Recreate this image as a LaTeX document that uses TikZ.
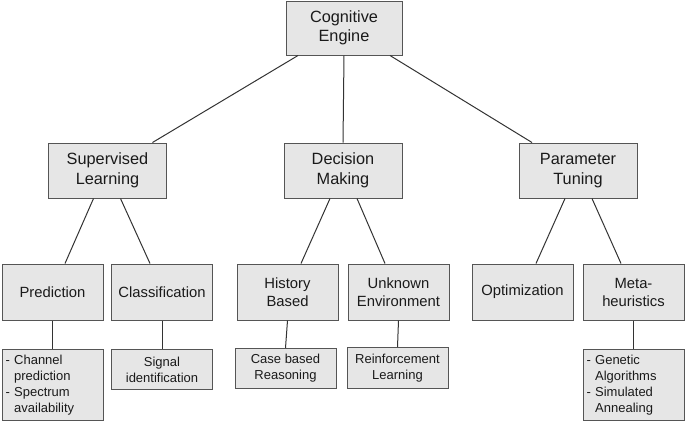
\documentclass[tikz,border=0pt]{standalone}
\usepackage{fontspec}
\setmainfont{Liberation Sans}
\definecolor{boxfill}{HTML}{E6E6E6}
\definecolor{boxline}{HTML}{555555}
\definecolor{linkcol}{HTML}{333333}
\definecolor{txt}{HTML}{1A1A1A}
\begin{document}
\begin{tikzpicture}[x=1pt,y=-1pt,
  box/.style={draw=boxline, fill=boxfill, line width=1pt, inner sep=0pt, align=center, text=txt},
  lvA/.style={box, minimum width=116pt, minimum height=54pt, font=\fontsize{16.3}{19.5}\selectfont},
  lvB/.style={box, minimum width=118pt, minimum height=55pt, font=\fontsize{16.3}{20}\selectfont},
  lvC/.style={box, minimum width=101pt, minimum height=56pt, font=\fontsize{14.8}{18}\selectfont},
  lvD/.style={box, minimum width=101pt, anchor=north, font=\fontsize{13}{16}\selectfont},
  lvDl/.style={lvD, text width=94pt, align=left},
  link/.style={draw=linkcol, line width=1pt}]
\useasboundingbox (0,0) rectangle (685,421);
% level 1
\node[lvA] (ce) at (344,28) {Cognitive\\Engine};
% level 2
\node[lvB] (sl) at (107.5,170.5) {Supervised\\Learning};
\node[lvB] (dm) at (343,170.5) {Decision\\Making};
\node[lvB] (pt) at (578,170.5) {Parameter\\Tuning};
% level 3
\node[lvC] (pr) at (52.5,292) {Prediction};
\node[lvC] (cl) at (162,292) {Classification};
\node[lvC] (hb) at (287.5,292) {History\\Based};
\node[lvC] (ue) at (398.5,292) {Unknown\\Environment};
\node[lvC] (op) at (522.5,292) {Optimization};
\node[lvC] (mh) at (633.5,292) {Meta-\\heuristics};
% level 4
\node[lvDl, minimum height=71pt] (cp) at (52.5,349) {- Channel\\\hphantom{- }prediction\\- Spectrum\\\hphantom{- }availability};
\node[lvD, minimum height=40pt] (si) at (162,349) {Signal\\identification};
\node[lvD, minimum height=40pt] (cb) at (285.5,348) {Case based\\Reasoning};
\node[lvD, minimum height=41pt] (rl) at (397.5,347) {Reinforcement\\Learning};
\node[lvDl, minimum height=71pt] (ga) at (633.5,349) {- Genetic\\\hphantom{- }Algorithms\\- Simulated\\\hphantom{- }Annealing};
% connectors level 1 -> 2
\draw[link] ([xshift=-46pt]ce.south) -- ([xshift=45pt]sl.north);
\draw[link] (ce.south) -- (dm.north);
\draw[link] ([xshift=46pt]ce.south) -- ([xshift=-46pt]pt.north);
% level 2 -> 3
\draw[link] ([xshift=-14pt]sl.south) -- ([xshift=12.5pt]pr.north);
\draw[link] ([xshift=13pt]sl.south) -- ([xshift=-12pt]cl.north);
\draw[link] ([xshift=-13pt]dm.south) -- ([xshift=13.5pt]hb.north);
\draw[link] ([xshift=14pt]dm.south) -- ([xshift=-13.5pt]ue.north);
\draw[link] ([xshift=-13pt]pt.south) -- ([xshift=13.5pt]op.north);
\draw[link] ([xshift=14pt]pt.south) -- ([xshift=-12.5pt]mh.north);
% level 3 -> 4
\draw[link] (pr.south) -- (cp.north);
\draw[link] (cl.south) -- (si.north);
\draw[link] (hb.south) -- (cb.north);
\draw[link] (ue.south) -- (rl.north);
\draw[link] (mh.south) -- (ga.north);
\end{tikzpicture}
\end{document}
